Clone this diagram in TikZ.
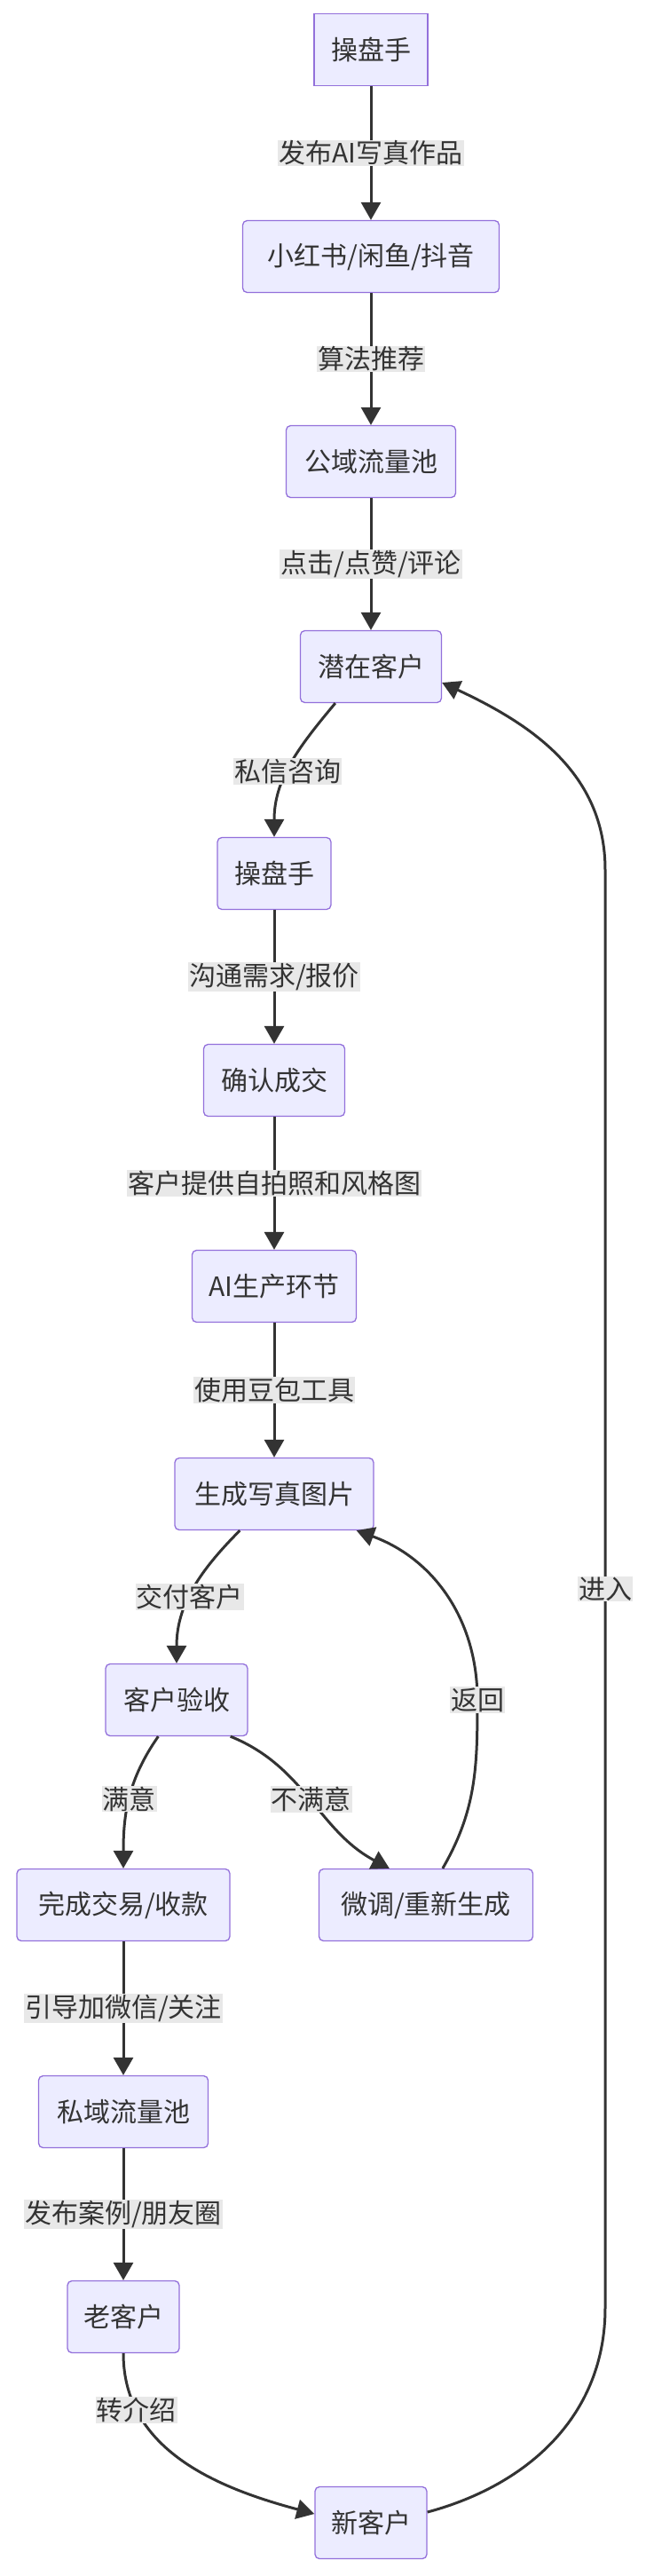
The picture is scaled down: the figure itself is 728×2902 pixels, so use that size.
\documentclass[tikz,border=0pt]{standalone}
\usepackage{fontspec}
\setmainfont{Noto Sans CJK SC}
\usetikzlibrary{arrows.meta,calc}
\definecolor{nfill}{HTML}{ECECFF}
\definecolor{nline}{HTML}{9370DB}
\definecolor{eline}{HTML}{333333}
\definecolor{lblbg}{HTML}{E8E8E8}
\tikzset{
  box/.style={draw=nline,fill=nfill,line width=1.3pt,rounded corners=5pt,minimum height=81pt,inner xsep=10pt,font=\fontsize{30}{33}\selectfont,text=eline},
  sqbox/.style={box,rounded corners=0pt},
  edge/.style={draw=eline,line width=3pt,-{Triangle[length=20pt,width=22pt]}},
  lbl/.style={fill=lblbg,inner sep=1pt,font=\fontsize{30}{33}\selectfont,text=eline},
}
\begin{document}
\begin{tikzpicture}[x=1pt,y=-1pt]
\useasboundingbox (0,0) rectangle (728,2902);
\node[sqbox,minimum width=128pt] (a) at (418,56) {操盘手};
\node[box,minimum width=289pt] (b) at (418,289) {小红书/闲鱼/抖音};
\node[box,minimum width=191pt] (c) at (418,520) {公域流量池};
\node[box,minimum width=159pt] (q) at (418,751) {潜在客户};
\node[box,minimum width=128pt] (o) at (309,984) {操盘手};
\node[box,minimum width=159pt] (r) at (309,1217) {确认成交};
\node[box,minimum width=185pt] (ai) at (309,1449) {AI生产环节};
\node[box,minimum width=224pt] (g) at (309,1683) {生成写真图片};
\node[box,minimum width=160pt] (k) at (199,1915) {客户验收};
\node[box,minimum width=240pt] (w) at (139,2146) {完成交易/收款};
\node[box,minimum width=241pt] (t) at (480,2146) {微调/重新生成};
\node[box,minimum width=191pt] (s) at (139,2379) {私域流量池};
\node[box,minimum width=126pt] (l) at (139,2610) {老客户};
\node[box,minimum width=126pt] (n) at (418,2842) {新客户};

\draw[edge] (a) -- node[lbl]{发布AI写真作品} (b);
\draw[edge] (b) -- node[lbl]{算法推荐} (c);
\draw[edge] (c) -- node[lbl]{点击/点赞/评论} (q);
\draw[edge] ([xshift=40pt]q.south west) to[out=-130,in=90] node[lbl,pos=0.55]{私信咨询} (o.north);
\draw[edge] (o) -- node[lbl]{沟通需求/报价} (r);
\draw[edge] (r) -- node[lbl]{客户提供自拍照和风格图} (ai);
\draw[edge] (ai) -- node[lbl]{使用豆包工具} (g);
\draw[edge] ([xshift=74pt]g.south west) to[out=-135,in=90] node[lbl,pos=0.55]{交付客户} (k.north);
\draw[edge] ([xshift=60pt]k.south west) to[out=-125,in=90] node[lbl,pos=0.5]{满意} (w.north);
\draw[edge] ([xshift=-20pt]k.south east) to[out=-22,in=152] node[lbl,pos=0.5]{不满意} ([xshift=80pt]t.north west);
\coordinate (rv) at (538,1915);
\draw[edge] ([xshift=140pt]t.north west) to[out=60,in=-90] (rv) to[out=90,in=-20] ([xshift=-20pt]g.south east);
\node[lbl] at (rv) {返回};
\draw[edge] (w) -- node[lbl]{引导加微信/关注} (s);
\draw[edge] (s) -- node[lbl]{发布案例/朋友圈} (l);
\draw[edge] (l.south) to[out=-90,in=165] node[lbl,pos=0.22]{转介绍} ([yshift=10pt]n.west);
\coordinate (p1) at (682,2600);
\coordinate (p2) at (682,980);
\draw[edge] ([yshift=12pt]n.east) to[out=15,in=-90] (p1) -- node[lbl]{进入} (p2) to[out=90,in=-25] ([yshift=-18pt]q.east);
\end{tikzpicture}
\end{document}
